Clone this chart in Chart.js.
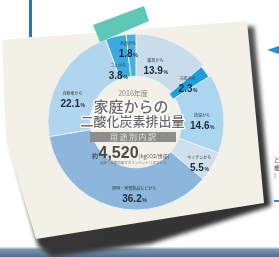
<!DOCTYPE html>
<html lang="ja">
<head>
<meta charset="utf-8">
<title>家庭からの二酸化炭素排出量</title>
<script src="https://cdn.jsdelivr.net/npm/chart.js@4.4.1/dist/chart.umd.min.js"></script>
<style>
html, body { margin: 0; padding: 0; background: #fff; }
#stage { position: relative; width: 279px; height: 257px; overflow: hidden; background: #fff; }
.deco { position: absolute; }
#rule { left: 29px; top: 0; width: 3px; height: 37px; background: #2a74c4; }
#band { left: 0; top: 247px; width: 279px; height: 10px;
  background: linear-gradient(#d5dde5 0, #d5dde5 1px, #8097b0 2px, #4f6d92 100%); }
#shadowWrap { left: 0; top: 0; width: 279px; height: 257px; filter: blur(2px); }
#shadow { position: absolute; left: 0; top: 0; width: 279px; height: 257px;
  background: linear-gradient(160deg, #777 0%, #3a3a3a 60%, #2e2e2e 100%);
  clip-path: polygon(12px 46px, 254px 26px, 271px 206px, 150px 244px, 52px 257px, 38px 246px, 12px 150px); }
#paper { left: 0; top: 0; width: 279px; height: 257px; background: #f3f0e7;
  clip-path: polygon(2px 40px, 247px 21px, 264px 203px, 36px 239px, 6px 140px); }
#tape { left: 0; top: 0; width: 279px; height: 257px; background: #5cc8b5;
  clip-path: polygon(93px 25px, 144px 6px, 149px 21px, 100px 42px); }
#arrow { left: 267px; top: 46px; width: 0; height: 0;
  border-top: 4px solid transparent; border-bottom: 4px solid transparent; border-right: 12px solid #2b8cd8; }
#dash { left: 274px; top: 200px; width: 5px; height: 2px; background: #2b8cd8; }
#side { left: 274px; top: 156px; font: 6px/8px "Noto Sans CJK JP"; color: #444; }
canvas { position: absolute; left: 0; top: 0; }
</style>
</head>
<body>
<div id="stage">
  <div class="deco" id="rule"></div>
  <div class="deco" id="band"></div>
  <div class="deco" id="shadowWrap"><div id="shadow"></div></div>
  <div class="deco" id="paper"></div>
  <div class="deco" id="arrow"></div>
  <div class="deco" id="dash"></div>
  <div class="deco" id="side">ど<br>能<br>(</div>
  <canvas id="co2Chart" width="279" height="257"></canvas>
  <div class="deco" id="tape"></div>
</div>
<script>
// 2016年度 家庭からの二酸化炭素排出量（用途別内訳）、12時の位置から時計回り
const categories = ['暖房から', '冷房から', '給湯から', 'キッチンから', '照明・家電製品などから', '自動車から', 'ゴミから', '水道から'];
const shares = [13.9, 2.3, 14.6, 5.5, 36.2, 22.1, 3.8, 1.8];
const sliceColors = ['#c9dcec', '#1e9fdc', '#acd6ef', '#cfdfeb', '#8db6dd', '#b1d5ee', '#3ca9df', '#48afe3'];

const titleYear = '2016年度';
const titleLines = ['家庭からの', '二酸化炭素排出量'];
const subTitle = '用途別内訳';
const totalPrefix = '約';
const totalValue = '4,520';
const totalUnit = '[kgCO2/世帯]';
const sourceNote = '出典：温室効果ガスインベントリオフィス';

// label placement tweak per slice: [angle shift in degrees, position across the ring 0..1]
const labelPlace = [[-6, 0.33], [-1, 0.45], [4, 0.48], [2, 0.69], [-14, 0.6], [-10, 0.52], [-6, 0.21], [-3, 0.67]];

const sliceLabels = {
	id: 'sliceLabels',
	afterDatasetsDraw(chart) {
		const ctx = chart.ctx;
		const arcs = chart.getDatasetMeta(0).data;
		ctx.save();
		arcs.forEach((arc, i) => {
			const mid = (arc.startAngle + arc.endAngle) / 2 + labelPlace[i][0] * Math.PI / 180;
			const r = arc.innerRadius + (arc.outerRadius - arc.innerRadius) * labelPlace[i][1];
			const x = arc.x + Math.cos(mid) * r;
			const y = arc.y + Math.sin(mid) * r;

			ctx.textAlign = 'center';
			ctx.textBaseline = 'middle';
			ctx.fillStyle = '#2e3a46';
			ctx.font = '4px "Noto Sans CJK JP"';
			ctx.fillText(categories[i], x, y - 5);

			const num = shares[i].toFixed(1);
			ctx.font = 'bold 10px "Liberation Sans"';
			const w1 = ctx.measureText(num).width;
			ctx.font = 'bold 5px "Liberation Sans"';
			const w2 = ctx.measureText('%').width;
			const sx = x - (w1 + w2) / 2;
			ctx.textAlign = 'left';
			ctx.textBaseline = 'alphabetic';
			ctx.fillStyle = '#1d2b3a';
			ctx.font = 'bold 10px "Liberation Sans"';
			ctx.fillText(num, sx, y + 8.5);
			ctx.font = 'bold 5px "Liberation Sans"';
			ctx.fillText('%', sx + w1 + 0.5, y + 8.5);
		});
		ctx.restore();
	}
};

const centerText = {
	id: 'centerText',
	afterDatasetsDraw(chart) {
		const ctx = chart.ctx;
		const arc = chart.getDatasetMeta(0).data[0];
		const cx = arc.x, cy = arc.y;
		ctx.save();
		ctx.textAlign = 'center';
		ctx.textBaseline = 'middle';
		ctx.lineJoin = 'round';

		ctx.font = '7px "Noto Sans CJK JP"';
		ctx.fillStyle = '#8a8580';
		ctx.fillText(titleYear, cx - 3, cy - 29);

		ctx.strokeStyle = '#ffffff';
		ctx.lineWidth = 2.5;
		ctx.fillStyle = '#6a6a6a';
		ctx.font = '500 15px "Noto Sans CJK JP"';
		ctx.strokeText(titleLines[0], cx - 5, cy - 16);
		ctx.fillText(titleLines[0], cx - 5, cy - 16);
		ctx.font = '500 13px "Noto Sans CJK JP"';
		ctx.strokeText(titleLines[1], cx - 3.5, cy - 1);
		ctx.fillText(titleLines[1], cx - 3.5, cy - 1);

		// grey band
		ctx.fillStyle = '#8d8d8b';
		ctx.fillRect(cx - 46, cy + 10, 86, 10);
		ctx.fillStyle = '#e4e2de';
		ctx.font = '8px "Noto Sans CJK JP"';
		const chars = subTitle.split('');
		chars.forEach((c, k) => {
			ctx.fillText(c, cx - 3 + (k - (chars.length - 1) / 2) * 9.5, cy + 15);
		});

		// total
		ctx.textAlign = 'left';
		ctx.textBaseline = 'alphabetic';
		let tx = cx - 44;
		ctx.fillStyle = '#4a4a4a';
		ctx.font = 'bold 6px "Noto Sans CJK JP"';
		ctx.fillText(totalPrefix, tx, cy + 36);
		tx += ctx.measureText(totalPrefix).width + 0.5;
		ctx.font = 'bold 16px "Liberation Sans"';
		ctx.fillText(totalValue, tx, cy + 36);
		tx += ctx.measureText(totalValue).width + 0.5;
		ctx.font = '5px "Noto Sans CJK JP"';
		ctx.fillText(totalUnit, tx, cy + 35.5);

		ctx.textAlign = 'center';
		ctx.font = '3.5px "Noto Sans CJK JP"';
		ctx.fillStyle = '#666';
		ctx.fillText(sourceNote, cx - 3, cy + 42);
		ctx.restore();
	}
};

var ctx = document.getElementById('co2Chart').getContext('2d');

var co2Chart = new Chart(ctx, {
	type: 'doughnut',
	data: {
		labels: categories,
		datasets: [{
			data: shares,
			backgroundColor: sliceColors,
			borderColor: '#e9f1f6',
			borderWidth: 1,
			offset: [0, -5, 0, 0, 0, 0, 0, 0]
		}]
	},
	options: {
		responsive: false,
		animation: false,
		events: [],
		radius: 88,
		cutout: '52%',
		rotation: 0,
		layout: {
			padding: { left: 40, right: 47, top: 30, bottom: 43 }
		},
		plugins: {
			legend: { display: false },
			tooltip: { enabled: false }
		}
	},
	plugins: [sliceLabels, centerText]
});
</script>
</body>
</html>
